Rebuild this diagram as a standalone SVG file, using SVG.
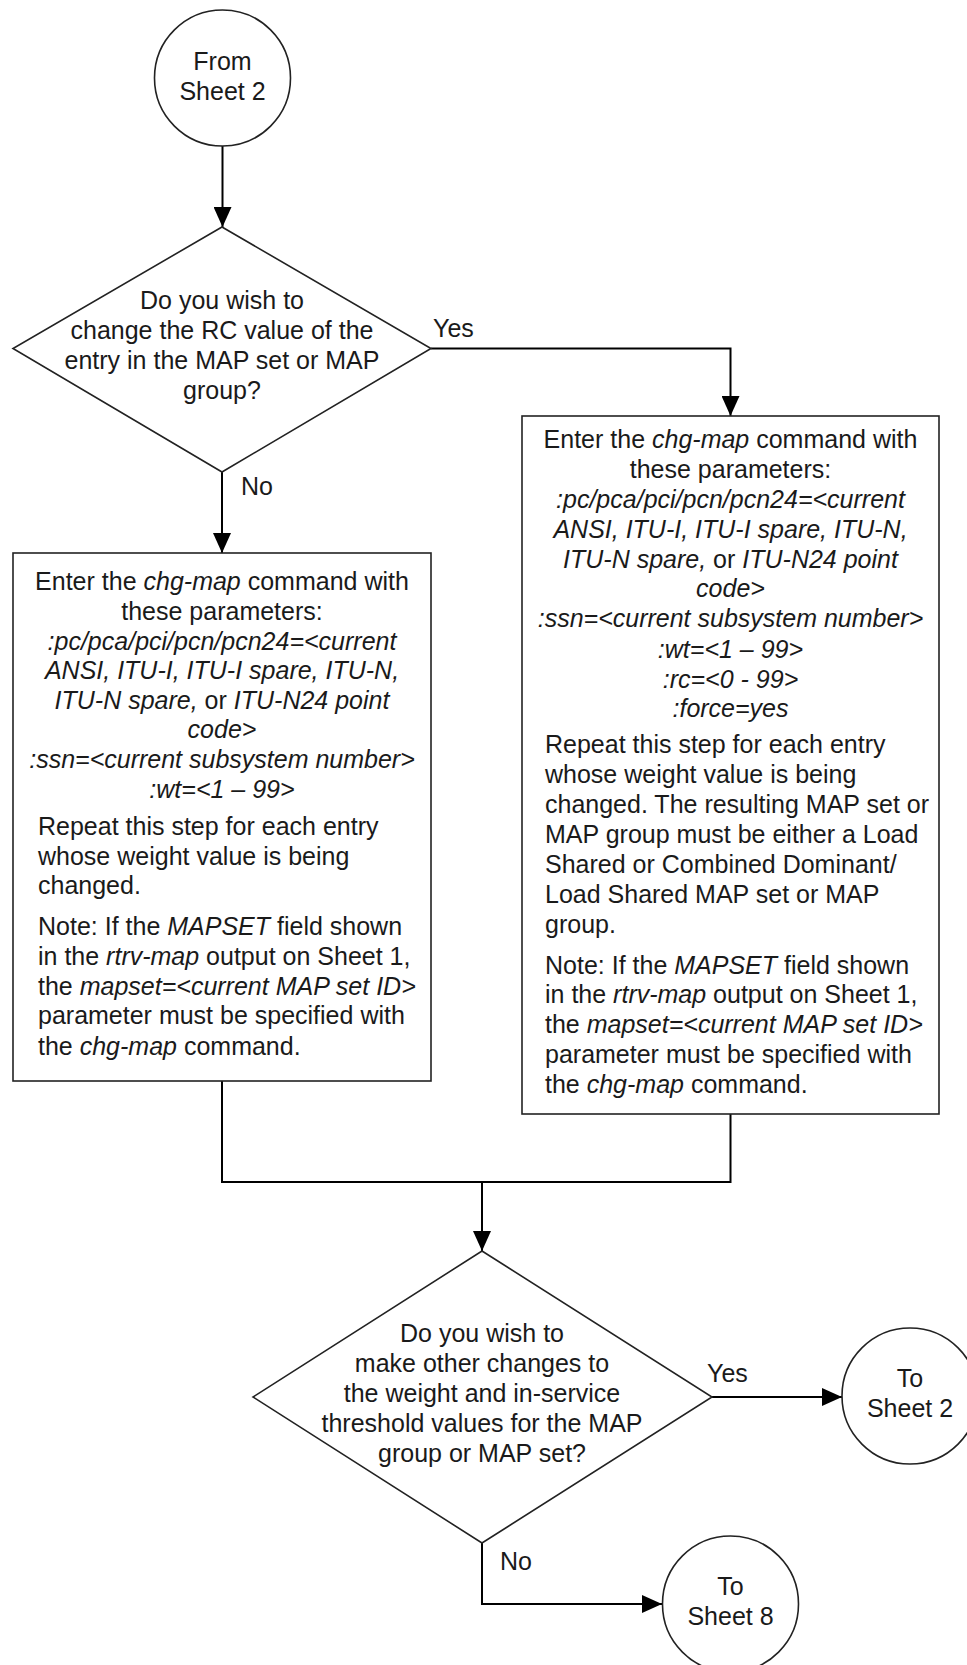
<svg xmlns="http://www.w3.org/2000/svg" width="967" height="1665" viewBox="0 0 967 1665">
<style>
text{font-family:"Liberation Sans",Arial,sans-serif;font-size:25px;fill:#1a1a1a}
.c{text-anchor:middle}
.i{font-style:italic}
.n{font-style:normal}
.shape{fill:#fff;stroke:#222;stroke-width:1.6}
.conn{fill:none;stroke:#000;stroke-width:2}
</style>
<defs>
<marker id="arr" markerUnits="userSpaceOnUse" markerWidth="20" markerHeight="18" refX="20" refY="9" orient="auto">
<path d="M0,0 L20,9 L0,18 Z" fill="#000"/>
</marker>
</defs>
<g id="connectors">
<path class="conn" d="M222.5,146 V227" marker-end="url(#arr)"/>
<path class="conn" d="M431,348.5 H730.5 V416" marker-end="url(#arr)"/>
<path class="conn" d="M222,472 V553" marker-end="url(#arr)"/>
<path class="conn" d="M222,1081 V1182 H730.5 V1114"/>
<path class="conn" d="M482,1182 V1251" marker-end="url(#arr)"/>
<path class="conn" d="M712,1397 H842" marker-end="url(#arr)"/>
<path class="conn" d="M482,1543 V1604 H662" marker-end="url(#arr)"/>
<text x="433" y="337">Yes</text>
<text x="241" y="495">No</text>
<text x="707" y="1382">Yes</text>
<text x="500" y="1570">No</text>
</g>
<g id="from-sheet2">
<circle class="shape" cx="222.5" cy="78" r="68"/>
<text class="c" x="222.5" y="70">From</text>
<text class="c" x="222.5" y="100">Sheet 2</text>
</g>
<g id="decision1">
<polygon class="shape" points="222,227 431,348.5 222,472 13,348.5"/>
<text class="c" x="222" y="309">Do you wish to</text>
<text class="c" x="222" y="339">change the RC value of the</text>
<text class="c" x="222" y="369">entry in the MAP set or MAP</text>
<text class="c" x="222" y="399">group?</text>
</g>
<g id="box-left">
<rect class="shape" x="13" y="553" width="418" height="528"/>
<text class="c" x="222" y="590">Enter the <tspan class="i">chg-map</tspan> command with</text>
<text class="c" x="222" y="620">these parameters:</text>
<text class="c i" x="222" y="650">:pc/pca/pci/pcn/pcn24=&lt;current</text>
<text class="c i" x="222" y="679">ANSI, ITU-I, ITU-I spare, ITU-N,</text>
<text class="c i" x="222" y="709">ITU-N spare, <tspan class="n">or</tspan> ITU-N24 point</text>
<text class="c i" x="222" y="738">code&gt;</text>
<text class="c i" x="222" y="768">:ssn=&lt;current subsystem number&gt;</text>
<text class="c i" x="222" y="798">:wt=&lt;1 – 99&gt;</text>
<text x="38" y="835">Repeat this step for each entry</text>
<text x="38" y="865">whose weight value is being</text>
<text x="38" y="894">changed.</text>
<text x="38" y="935">Note: If the <tspan class="i">MAPSET</tspan> field shown</text>
<text x="38" y="965">in the <tspan class="i">rtrv-map</tspan> output on Sheet 1,</text>
<text x="38" y="995">the <tspan class="i">mapset=&lt;current MAP set ID&gt;</tspan></text>
<text x="38" y="1024">parameter must be specified with</text>
<text x="38" y="1055">the <tspan class="i">chg-map</tspan> command.</text>
</g>
<g id="box-right">
<rect class="shape" x="522" y="416" width="417" height="698"/>
<text class="c" x="730.5" y="448">Enter the <tspan class="i">chg-map</tspan> command with</text>
<text class="c" x="730.5" y="478">these parameters:</text>
<text class="c i" x="730.5" y="508">:pc/pca/pci/pcn/pcn24=&lt;current</text>
<text class="c i" x="730.5" y="538">ANSI, ITU-I, ITU-I spare, ITU-N,</text>
<text class="c i" x="730.5" y="568">ITU-N spare, <tspan class="n">or</tspan> ITU-N24 point</text>
<text class="c i" x="730.5" y="597">code&gt;</text>
<text class="c i" x="730.5" y="627">:ssn=&lt;current subsystem number&gt;</text>
<text class="c i" x="730.5" y="658">:wt=&lt;1 – 99&gt;</text>
<text class="c i" x="730.5" y="688">:rc=&lt;0 - 99&gt;</text>
<text class="c i" x="730.5" y="717">:force=yes</text>
<text x="545" y="753">Repeat this step for each entry</text>
<text x="545" y="783">whose weight value is being</text>
<text x="545" y="813">changed. The resulting MAP set or</text>
<text x="545" y="843">MAP group must be either a Load</text>
<text x="545" y="873">Shared or Combined Dominant/</text>
<text x="545" y="903">Load Shared MAP set or MAP</text>
<text x="545" y="933">group.</text>
<text x="545" y="974">Note: If the <tspan class="i">MAPSET</tspan> field shown</text>
<text x="545" y="1003">in the <tspan class="i">rtrv-map</tspan> output on Sheet 1,</text>
<text x="545" y="1033">the <tspan class="i">mapset=&lt;current MAP set ID&gt;</tspan></text>
<text x="545" y="1063">parameter must be specified with</text>
<text x="545" y="1093">the <tspan class="i">chg-map</tspan> command.</text>
</g>
<g id="decision2">
<polygon class="shape" points="482,1251 712,1397 482,1543 253,1397"/>
<text class="c" x="482" y="1342">Do you wish to</text>
<text class="c" x="482" y="1372">make other changes to</text>
<text class="c" x="482" y="1402">the weight and in-service</text>
<text class="c" x="482" y="1432">threshold values for the MAP</text>
<text class="c" x="482" y="1462">group or MAP set?</text>
</g>
<g id="to-sheet2">
<circle class="shape" cx="910" cy="1396" r="68"/>
<text class="c" x="910" y="1387">To</text>
<text class="c" x="910" y="1417">Sheet 2</text>
</g>
<g id="to-sheet8">
<circle class="shape" cx="730.5" cy="1604" r="68"/>
<text class="c" x="730.5" y="1595">To</text>
<text class="c" x="730.5" y="1625">Sheet 8</text>
</g>
</svg>
